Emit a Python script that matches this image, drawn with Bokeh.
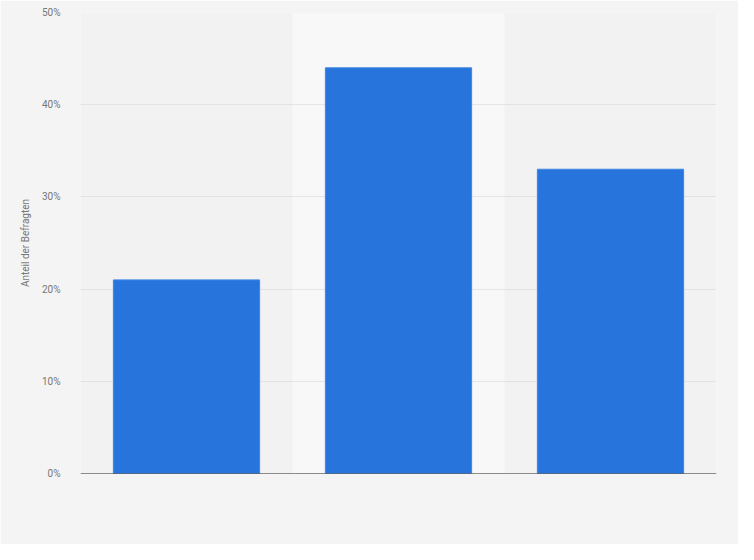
from bokeh.plotting import figure
from bokeh.models import FactorRange, Range1d, FixedTicker, CustomJSTickFormatter, Span
from bokeh.embed import file_html
from bokeh.resources import INLINE

categories = ["Kategorie 1", "Kategorie 2", "Kategorie 3"]
values = [21, 44, 33]
highlight = ["Kategorie 2"]
y_ticks = [0, 10, 20, 30, 40, 50]

p = figure(
    x_range=FactorRange(*categories, range_padding=0),
    y_range=Range1d(0, 50),
    width=738, height=544,
    output_backend="svg", toolbar_location=None,
    min_border_left=80, min_border_right=22, min_border_top=12, min_border_bottom=71,
)
p.background_fill_color = "#f2f2f2"
p.border_fill_color = "#f4f4f4"
p.outline_line_color = None

# highlighted column band
p.vbar(x=highlight, top=[50], width=1.0, fill_color="#f8f8f8", line_color=None, level="underlay")

p.vbar(x=categories, top=values, width=0.69, fill_color="#2775dc", line_color="#3f86e4", line_width=1)

p.yaxis.ticker = FixedTicker(ticks=y_ticks)
p.yaxis.formatter = CustomJSTickFormatter(code="return tick + '%';")
p.yaxis.axis_line_color = None
p.yaxis.major_tick_line_color = None
p.yaxis.minor_tick_line_color = None
p.yaxis.major_label_text_color = "#777777"
p.yaxis.major_label_text_font = "Roboto"
p.yaxis.major_label_text_font_size = "10px"
p.yaxis.major_label_standoff = 14
p.yaxis.axis_label = "Anteil der Befragten"
p.yaxis.axis_label_text_font = "Roboto"
p.yaxis.axis_label_text_font_style = "normal"
p.yaxis.axis_label_text_font_size = "10px"
p.yaxis.axis_label_text_color = "#777777"
p.yaxis.axis_label_standoff = 8

p.xaxis.visible = False
p.add_layout(Span(location=0, dimension="width", line_color="#222222", line_width=1))
p.xgrid.grid_line_color = None
p.ygrid.grid_line_color = "#d2d2d2"
p.ygrid.grid_line_dash = "1 1"
p.ygrid.grid_line_width = 1

open("out.html", "w").write(file_html(p, INLINE))
